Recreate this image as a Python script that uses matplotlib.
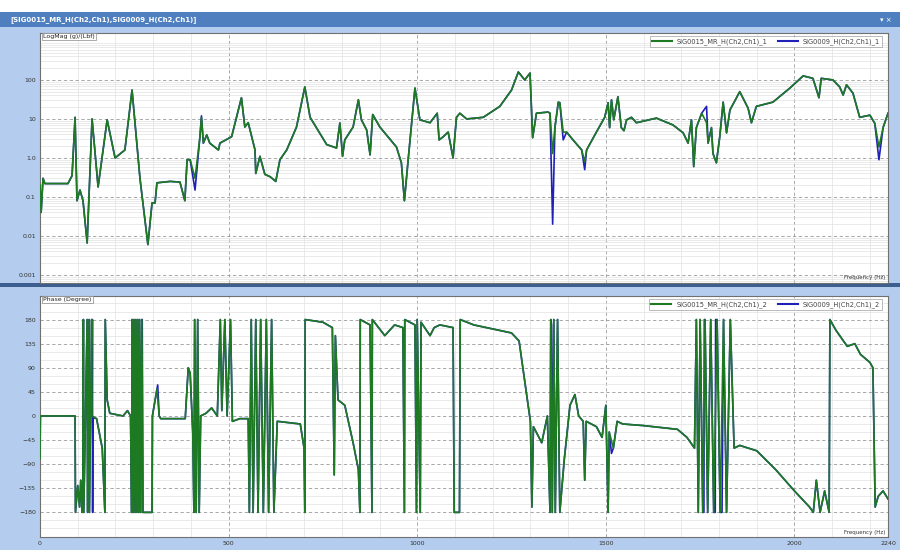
"""FRF overlay: LogMag + Phase of SIG0015_MR_H vs SIG0009_H (Ch2,Ch1)."""

import matplotlib

matplotlib.use("Agg")
import matplotlib.pyplot as plt
from matplotlib.patches import Rectangle
from matplotlib.ticker import FixedLocator, NullFormatter

GREEN = "#1e7a22"
BLUE = "#2020b8"
FRAME = "#b4cdee"
TITLEBAR = "#4f7fbf"

WINDOW_TITLE = "[SIG0015_MR_H(Ch2,Ch1),SIG0009_H(Ch2,Ch1)]"
SERIES_NAMES = ["SIG0015_MR_H(Ch2,Ch1)", "SIG0009_H(Ch2,Ch1)"]

X_MAX = 2248
X_TICKS = [0, 500, 1000, 1500, 2000, 2248]
X_TICK_LABELS = ["0", "500", "1000", "1500", "2000", "2240"]

MAG_TICKS = [0.001, 0.01, 0.1, 1.0, 10, 100]
MAG_TICK_LABELS = ["0.001", "0.01", "0.1", "1.0", "10", "100"]
PHASE_TICKS = [-180, -135, -90, -45, 0, 45, 90, 135, 180]

# --- magnitude, green trace (Hz, g/lbf) ---
mag_freq = [0, 3, 8, 13, 74, 85, 93, 98, 106, 114, 125, 138, 154, 178, 199,
            225, 244, 265, 286, 297, 305, 310, 345, 371, 384, 390, 398, 411,
            424, 428, 433, 442, 450, 473, 477, 508, 534, 543, 552, 570, 572,
            583, 596, 610, 625, 636, 654, 680, 702, 716, 760, 786, 795, 802,
            808, 830, 844, 852, 866, 875, 882, 901, 945, 958, 966, 976, 994,
            1007, 1034, 1053, 1058, 1069, 1082, 1095, 1104, 1113, 1131, 1175,
            1219, 1250, 1268, 1285, 1299, 1306, 1316, 1347, 1352, 1359, 1365,
            1374, 1378, 1387, 1396, 1413, 1436, 1444, 1449, 1475, 1497, 1506,
            1510, 1515, 1521, 1532, 1541, 1548, 1555, 1568, 1581, 1634, 1678,
            1705, 1718, 1727, 1733, 1740, 1754, 1767, 1771, 1780, 1784, 1793,
            1802, 1811, 1820, 1829, 1855, 1877, 1886, 1899, 1943, 1988, 2023,
            2049, 2065, 2071, 2102, 2120, 2129, 2138, 2155, 2173, 2200, 2213,
            2224, 2235, 2248]
mag_green = [0.2, 0.04, 0.3, 0.22, 0.22, 0.35, 11, 0.08, 0.15, 0.08, 0.0066,
             10, 0.18, 9.5, 1.0, 1.6, 55, 0.3, 0.006, 0.07, 0.07, 0.23, 0.25,
             0.24, 0.08, 0.9, 0.9, 0.3, 3.5, 11, 2.4, 3.9, 2.4, 1.6, 2.4, 3.5,
             35, 6.2, 8, 1.6, 0.4, 1.1, 0.38, 0.33, 0.25, 0.9, 1.6, 6.2, 66,
             11, 2.2, 1.8, 7.9, 1.1, 2.9, 6.2, 31, 9.5, 5.2, 1.2, 13, 6.2, 1.9,
             0.75, 0.08, 0.9, 62, 9.5, 8, 14, 2.9, 3.5, 4.6, 1.0, 11, 14, 10,
             11, 21, 55, 160, 100, 150, 3.3, 14, 15, 14, 1.3, 6, 27, 26, 4.6,
             4.6, 2.9, 1.6, 0.8, 1.6, 4.6, 11, 26, 6, 31, 9.5, 37, 6, 5, 9.5,
             11, 8, 10.5, 7, 4.4, 2.4, 9.5, 0.6, 6, 14, 8, 2.4, 6, 1.3, 0.75,
             3.5, 27, 4.4, 17, 50, 19, 8, 21, 27, 62, 127, 110, 35, 110, 100,
             66, 41, 75, 46, 11, 12.5, 7.7, 1.9, 6, 14]
# blue trace follows green except at these readings
mag_blue_freq = [411, 428, 1359, 1387, 1444, 1767, 2224]
mag_blue_vals = [0.15, 12, 0.02, 2.9, 0.5, 21, 0.9]

# --- phase, green trace (Hz, deg); near-equal freqs are wrap jumps ---
phase_freq = [
    0, 1, 93, 94, 100, 105, 108, 112, 114, 115, 116, 125, 126, 130, 131,
    137, 138, 150, 165, 172, 173, 178, 185, 220, 232, 240, 243, 244, 247,
    249, 252, 254, 257, 259, 262, 264, 267, 270, 273, 297, 298, 310, 316,
    320, 385, 393, 398, 405, 408, 410, 414, 418, 422, 426, 440, 455, 470,
    478, 482, 490, 496, 505, 510, 530, 552, 555, 560, 565, 572, 578, 585,
    592, 600, 606, 614, 620, 629, 690, 700, 702, 703, 750, 775, 780, 783,
    790, 808, 830, 844, 848, 849, 875, 880, 881, 914, 940, 962, 966, 967,
    994, 998, 1000, 1008, 1010, 1034, 1045, 1060, 1095, 1098, 1112, 1114,
    1150, 1250, 1270, 1300, 1304, 1308, 1330, 1345, 1352, 1354, 1358, 1362,
    1366, 1372, 1378, 1390, 1405, 1418, 1428, 1440, 1444, 1448, 1475, 1490,
    1500, 1506, 1509, 1520, 1530, 1545, 1600, 1690, 1715, 1735, 1740, 1745,
    1750, 1757, 1763, 1770, 1778, 1786, 1795, 1803, 1812, 1820, 1830, 1840,
    1855, 1900, 1950, 2000, 2040, 2050, 2058, 2068, 2080, 2092, 2094, 2110,
    2140, 2160, 2175, 2200, 2208, 2214, 2222, 2235, 2248]
phase_green = [
    -80, 0, 0, -180, -130, -170, -120, -180, -150, 180, -180, 180, -180, 180,
    -180, 180, 0, -5, -60, -180, 180, 30, 5, 0, 10, 0, -180, 180, -180,
    180, -180, 180, -180, 180, -180, 180, -180, 180, -180, -180, 0, 50, 0,
    -5, -5, 90, 80, -30, -180, 180, -180, 180, -180, 0, 5, 15, 0,
    180, 10, 180, 0, 180, -10, -5, -5, -180, 180, -180, 180, -180, 180,
    -180, 180, -180, 180, -180, -10, -15, -60, -180, 180, 175, 165, -110, 150,
    30, 20, -50, -100, -180, 180, 170, -180, 180, 150, 170, 165, -180, 180,
    170, -180, 180, -180, 175, 150, 165, 170, 165, -180, -180, 180,
    170, 155, 140, -10, -170, -20, -50, 0, -180, 180, -180, 180,
    -180, 180, -180, -80, 20, 40, 0, -10, -120, -10, -20, -40,
    20, -180, -30, -60, -10, -15, -18, -25, -40, -60, 180, -180,
    180, -180, 180, -180, 180, -180, 180, -180, 180, -180, 180, -60,
    -55, -65, -100, -140, -170, -180, -120, -180, -140, -180, 180, 160,
    130, 135, 115, 100, 90, -170, -150, -140, -155]
# blue trace follows green except at these readings
phase_blue_freq = [139, 139.5, 140, 271, 312, 1356, 1515, 1760, 1761, 1790,
                   1791, 1808]
phase_blue_vals = [180, -180, -3, 180, 58, 170, -70, -180, 180, -180, 180,
                   -180]


def merge_blue(freq, vals, dev_freq, dev_vals):
    """Blue trace = green readings with the blue-only deviations slotted in."""
    pts = dict(zip(freq, vals))
    pts.update(dict(zip(dev_freq, dev_vals)))
    keys = sorted(pts)
    return keys, [pts[k] for k in keys]


def style_axes(ax, ylabel_text):
    ax.set_facecolor("white")
    ax.set_xlim(0, X_MAX)
    ax.xaxis.set_major_locator(FixedLocator(X_TICKS))
    ax.xaxis.set_minor_locator(FixedLocator(range(100, X_MAX, 100)))
    ax.grid(True, which="major", color="#9a9a9a", ls=(0, (4, 3)), lw=0.6)
    ax.grid(True, which="minor", color="#e2e2e2", ls="-", lw=0.5)
    ax.set_axisbelow(True)
    ax.tick_params(which="both", length=0, labelsize=4.5, colors="#333333",
                   pad=3)
    for s in ax.spines.values():
        s.set_color("#707070")
        s.set_linewidth(0.8)
    ax.text(0.004, 0.995, ylabel_text, transform=ax.transAxes, fontsize=4.5,
            va="top", ha="left", color="#222222",
            bbox=dict(fc="white", ec="#888888", lw=0.5, pad=0.8))
    ax.text(0.997, 0.01, "Frequency (Hz)", transform=ax.transAxes,
            fontsize=4, va="bottom", ha="right", color="#333333")


def add_legend(ax, suffix):
    handles = [plt.Line2D([], [], color=GREEN, lw=1.5),
               plt.Line2D([], [], color=BLUE, lw=1.5)]
    labels = [f"{n}_{suffix}" for n in SERIES_NAMES]
    leg = ax.legend(handles, labels, loc="upper right", ncol=2, fontsize=4.8,
                    frameon=True, fancybox=False, borderpad=0.3,
                    handlelength=3, columnspacing=1.5, handletextpad=0.8,
                    bbox_to_anchor=(0.997, 1.0))
    leg.get_frame().set_edgecolor("#888888")
    leg.get_frame().set_linewidth(0.5)
    for t in leg.get_texts():
        t.set_color("#444444")


def main():
    fig = plt.figure(figsize=(9, 5.5), dpi=100)
    fig.patch.set_facecolor("white")

    # window chrome (pixel coordinates, origin top-left)
    def px_rect(x0, y0, x1, y1, color, z=0):
        fig.add_artist(Rectangle((x0 / 900, 1 - y1 / 550), (x1 - x0) / 900,
                                 (y1 - y0) / 550, transform=fig.transFigure,
                                 fc=color, ec="none", zorder=z))

    px_rect(0, 12, 900, 550, FRAME)
    px_rect(0, 12, 900, 27, TITLEBAR)
    px_rect(0, 283, 900, 287, "#3c5f8f")
    fig.text(10 / 900, 1 - 19.5 / 550, WINDOW_TITLE, fontsize=5,
             color="white", va="center", ha="left", weight="bold")
    fig.text(880 / 900, 1 - 19.5 / 550, "▾ ×", fontsize=5, color="white",
             va="center", ha="left")

    ax1 = fig.add_axes([40 / 900, 1 - 283 / 550, 848 / 900, 250 / 550])
    ax2 = fig.add_axes([40 / 900, 1 - 537 / 550, 848 / 900, 241 / 550])

    # magnitude panel
    bf, bv = merge_blue(mag_freq, mag_green, mag_blue_freq, mag_blue_vals)
    ax1.plot(bf, bv, color=BLUE, lw=1.2, zorder=2)
    ax1.plot(mag_freq, mag_green, color=GREEN, lw=1.2, zorder=3)
    ax1.set_yscale("log")
    ax1.set_ylim(6.2e-4, 1600)
    ax1.yaxis.set_major_locator(FixedLocator(MAG_TICKS))
    ax1.set_yticklabels(MAG_TICK_LABELS)
    ax1.yaxis.set_minor_locator(FixedLocator(
        [m * 10.0 ** e for e in range(-4, 4) for m in range(2, 10)]))
    ax1.yaxis.set_minor_formatter(NullFormatter())
    style_axes(ax1, "LogMag (g)/(Lbf)")
    ax1.tick_params(axis="x", labelbottom=False)
    add_legend(ax1, 1)

    # phase panel
    bf, bv = merge_blue(phase_freq, phase_green, phase_blue_freq,
                        phase_blue_vals)
    ax2.plot(bf, bv, color=BLUE, lw=1.2, zorder=2)
    ax2.plot(phase_freq, phase_green, color=GREEN, lw=1.2, zorder=3)
    ax2.set_ylim(-226, 224)
    ax2.yaxis.set_major_locator(FixedLocator(PHASE_TICKS))
    ax2.yaxis.set_minor_locator(FixedLocator(range(-210, 211, 15)))
    style_axes(ax2, "Phase (Degree)")
    ax2.set_xticklabels(X_TICK_LABELS)
    add_legend(ax2, 2)

    fig.savefig("out.png", dpi=100)
    plt.close(fig)


if __name__ == "__main__":
    main()
